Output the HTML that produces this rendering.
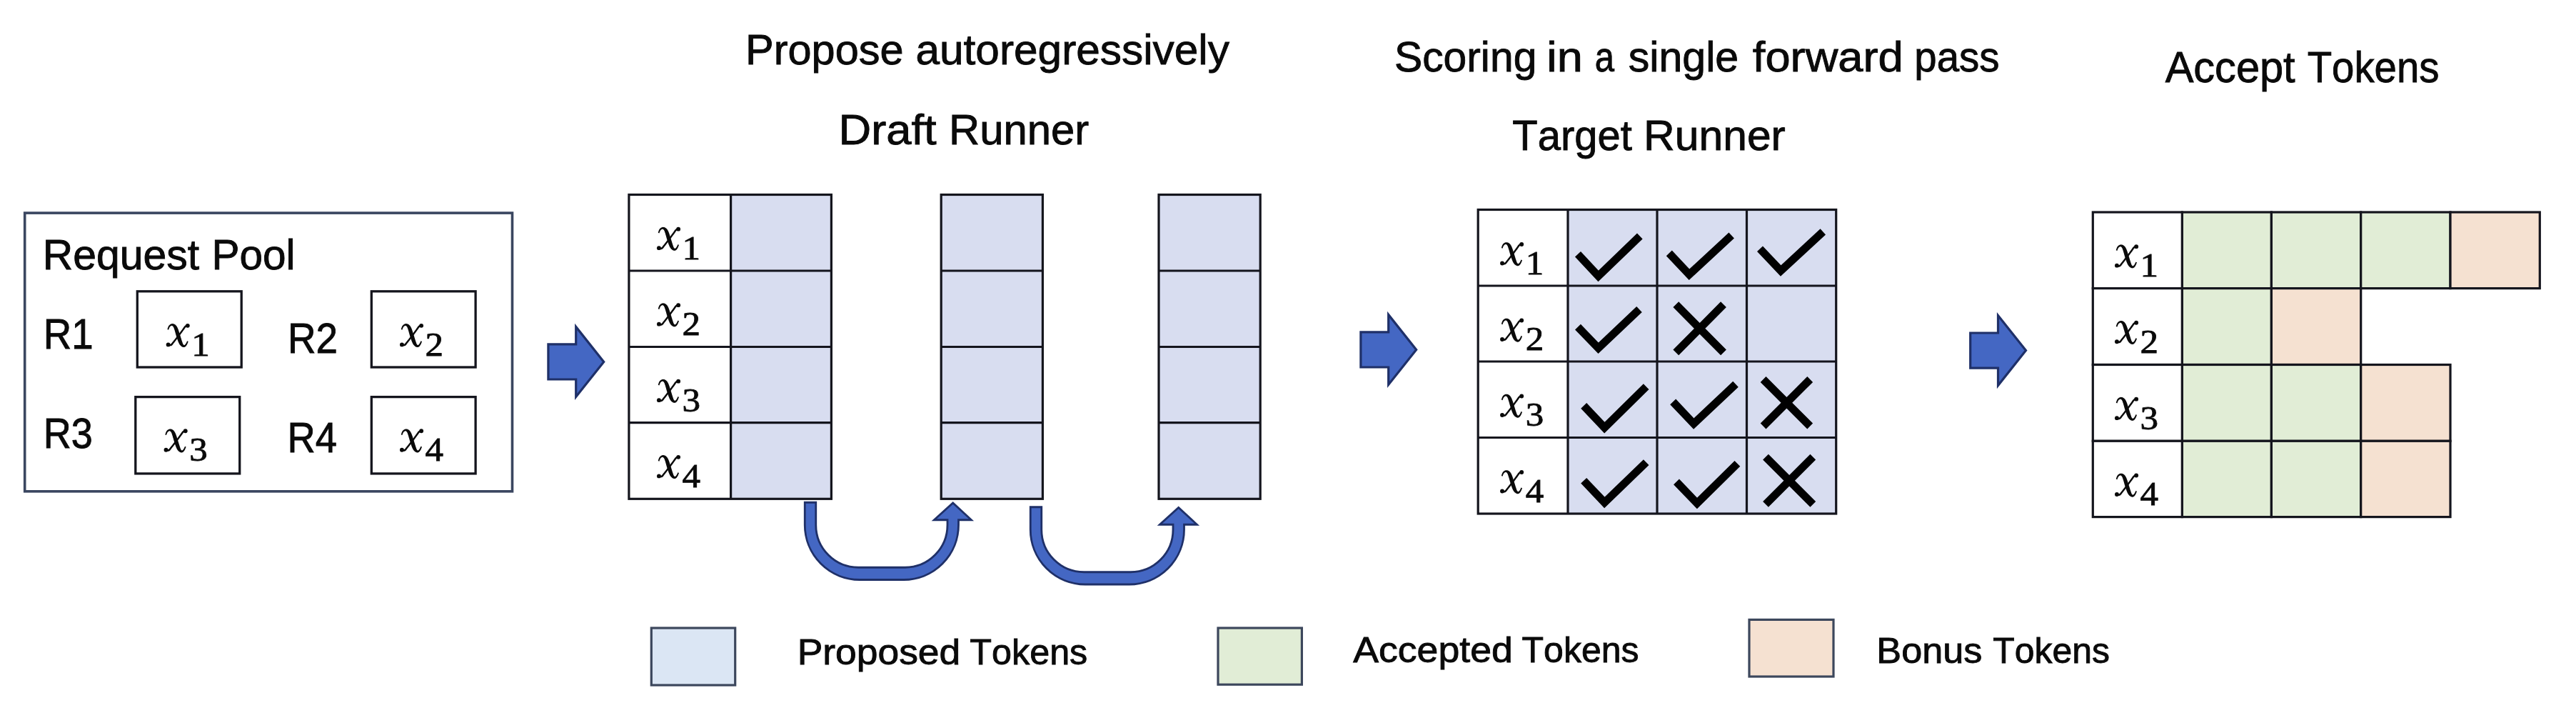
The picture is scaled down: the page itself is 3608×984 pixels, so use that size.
<!DOCTYPE html>
<html><head><meta charset="utf-8"><title>Speculative decoding</title>
<style>
html,body{margin:0;padding:0;background:#fff;}
body{width:3608px;height:984px;overflow:hidden;}
svg{display:block;}
text{font-kerning:none;}
text.s{font-family:"Liberation Sans",sans-serif;fill:#0a0a0a;stroke:#0a0a0a;stroke-width:0.9px;}
text.i{font-family:"Liberation Serif",serif;font-style:italic;fill:#0a0a0a;}
text.r{font-family:"Liberation Serif",serif;fill:#0a0a0a;stroke:#0a0a0a;stroke-width:0.8px;}
</style></head><body>
<svg width="3608" height="984" viewBox="0 0 3608 984">
<rect width="3608" height="984" fill="#fff"/>
<defs><g id="xg" fill="#0a0a0a"><g transform="translate(0,0.5) scale(0.975)"><path d="M3.84,-24.47 L3.93,-24.68 L4.03,-24.94 L4.15,-25.24 L4.27,-25.57 L4.40,-25.92 L4.54,-26.29 L4.70,-26.67 L4.86,-27.05 L5.02,-27.42 L5.19,-27.77 L5.37,-28.10 L5.54,-28.39 L5.71,-28.63 L5.87,-28.82 L6.05,-29.01 L6.25,-29.20 L6.46,-29.39 L6.68,-29.57 L6.90,-29.73 L7.13,-29.89 L7.37,-30.02 L7.60,-30.14 L7.83,-30.25 L8.04,-30.32 L8.25,-30.38 L8.44,-30.41 L8.60,-30.42 L8.74,-30.41 L8.87,-30.38 L9.01,-30.33 L9.15,-30.26 L9.29,-30.18 L9.44,-30.09 L9.59,-29.98 L9.74,-29.86 L9.89,-29.72 L10.04,-29.58 L10.18,-29.42 L10.32,-29.25 L10.45,-29.08 L10.58,-28.91 L10.71,-28.72 L10.83,-28.53 L10.94,-28.34 L11.04,-28.14 L11.14,-27.94 L11.24,-27.72 L11.34,-27.49 L11.44,-27.23 L11.55,-26.95 L11.66,-26.64 L11.78,-26.29 L11.92,-25.91 L12.06,-25.50 L12.21,-25.05 L12.37,-24.57 L12.54,-24.06 L12.71,-23.49 L12.89,-22.88 L13.08,-22.22 L13.28,-21.52 L13.48,-20.79 L13.69,-20.04 L13.90,-19.28 L14.12,-18.50 L14.33,-17.73 L14.56,-16.96 L14.78,-16.20 L15.01,-15.45 L15.24,-14.74 L15.46,-14.05 L15.69,-13.36 L15.92,-12.65 L16.16,-11.94 L16.40,-11.23 L16.64,-10.52 L16.88,-9.82 L17.13,-9.14 L17.37,-8.47 L17.62,-7.82 L17.87,-7.19 L18.11,-6.60 L18.36,-6.03 L18.60,-5.51 L18.83,-5.03 L19.06,-4.60 L19.29,-4.19 L19.51,-3.81 L19.74,-3.45 L19.97,-3.11 L20.21,-2.80 L20.45,-2.49 L20.69,-2.21 L20.94,-1.94 L21.19,-1.68 L21.45,-1.44 L21.71,-1.22 L21.98,-1.00 L22.25,-0.78 L22.54,-0.57 L22.84,-0.38 L23.14,-0.19 L23.45,-0.02 L23.77,0.13 L24.10,0.26 L24.44,0.38 L24.79,0.47 L25.15,0.54 L25.52,0.58 L25.89,0.59 L26.27,0.55 L26.66,0.48 L27.03,0.36 L27.37,0.20 L27.68,0.02 L27.97,-0.19 L28.23,-0.40 L28.48,-0.64 L28.71,-0.88 L28.93,-1.13 L29.15,-1.39 L29.35,-1.66 L29.55,-1.93 L29.74,-2.20 L29.92,-2.48 L30.10,-2.77 L30.29,-3.10 L30.49,-3.46 L30.67,-3.84 L30.85,-4.23 L31.03,-4.64 L31.20,-5.05 L31.37,-5.46 L31.53,-5.85 L31.67,-6.24 L31.81,-6.59 L31.94,-6.92 L32.05,-7.20 L32.14,-7.44 L32.22,-7.63 L30.58,-8.37 L30.48,-8.18 L30.36,-7.93 L30.23,-7.64 L30.09,-7.32 L29.93,-6.98 L29.76,-6.62 L29.58,-6.24 L29.40,-5.87 L29.21,-5.50 L29.02,-5.14 L28.83,-4.81 L28.64,-4.50 L28.47,-4.25 L28.30,-4.03 L28.12,-3.82 L27.93,-3.61 L27.74,-3.42 L27.55,-3.23 L27.36,-3.06 L27.17,-2.91 L26.99,-2.77 L26.81,-2.66 L26.65,-2.57 L26.50,-2.50 L26.37,-2.46 L26.26,-2.45 L26.19,-2.46 L26.14,-2.48 L26.11,-2.51 L26.06,-2.54 L26.00,-2.58 L25.93,-2.63 L25.85,-2.69 L25.75,-2.76 L25.65,-2.85 L25.53,-2.95 L25.42,-3.07 L25.30,-3.19 L25.18,-3.33 L25.06,-3.48 L24.94,-3.64 L24.82,-3.80 L24.71,-3.98 L24.61,-4.16 L24.53,-4.34 L24.44,-4.52 L24.36,-4.71 L24.29,-4.92 L24.21,-5.14 L24.12,-5.39 L24.03,-5.66 L23.93,-5.96 L23.81,-6.29 L23.69,-6.66 L23.55,-7.06 L23.40,-7.49 L23.24,-7.96 L23.08,-8.47 L22.90,-9.02 L22.71,-9.61 L22.51,-10.23 L22.31,-10.88 L22.10,-11.55 L21.89,-12.24 L21.67,-12.94 L21.46,-13.65 L21.23,-14.36 L21.01,-15.07 L20.79,-15.78 L20.56,-16.46 L20.35,-17.14 L20.12,-17.84 L19.90,-18.57 L19.67,-19.31 L19.43,-20.08 L19.19,-20.84 L18.95,-21.61 L18.71,-22.37 L18.46,-23.11 L18.22,-23.84 L17.97,-24.54 L17.72,-25.21 L17.47,-25.85 L17.23,-26.43 L16.99,-26.96 L16.76,-27.44 L16.54,-27.90 L16.32,-28.33 L16.09,-28.74 L15.86,-29.13 L15.62,-29.51 L15.38,-29.86 L15.13,-30.20 L14.86,-30.53 L14.59,-30.84 L14.30,-31.13 L14.00,-31.41 L13.69,-31.68 L13.37,-31.93 L13.02,-32.17 L12.67,-32.38 L12.31,-32.57 L11.94,-32.74 L11.56,-32.89 L11.18,-33.02 L10.80,-33.12 L10.41,-33.20 L10.02,-33.25 L9.63,-33.28 L9.24,-33.28 L8.85,-33.25 L8.46,-33.19 L8.08,-33.10 L7.71,-32.98 L7.35,-32.84 L7.01,-32.67 L6.67,-32.48 L6.35,-32.28 L6.03,-32.06 L5.73,-31.83 L5.43,-31.58 L5.15,-31.33 L4.87,-31.06 L4.61,-30.78 L4.37,-30.49 L4.13,-30.18 L3.90,-29.82 L3.69,-29.44 L3.49,-29.04 L3.32,-28.62 L3.15,-28.19 L3.00,-27.77 L2.85,-27.35 L2.72,-26.93 L2.60,-26.54 L2.49,-26.17 L2.39,-25.84 L2.30,-25.55 L2.23,-25.31 L2.16,-25.13Z"/><path d="M30.55,-31.73 L30.49,-31.70 L30.41,-31.68 L30.28,-31.64 L30.10,-31.60 L29.88,-31.54 L29.63,-31.48 L29.36,-31.40 L29.06,-31.30 L28.76,-31.18 L28.44,-31.04 L28.11,-30.87 L27.78,-30.67 L27.45,-30.44 L27.13,-30.17 L26.85,-29.89 L26.59,-29.61 L26.35,-29.32 L26.11,-29.02 L25.89,-28.71 L25.66,-28.39 L25.43,-28.05 L25.20,-27.70 L24.95,-27.34 L24.70,-26.96 L24.43,-26.56 L24.14,-26.15 L23.83,-25.71 L23.49,-25.24 L23.12,-24.74 L22.72,-24.19 L22.29,-23.61 L21.84,-23.00 L21.38,-22.37 L20.90,-21.71 L20.41,-21.05 L19.91,-20.37 L19.40,-19.69 L18.90,-19.00 L18.39,-18.32 L17.89,-17.65 L17.39,-17.00 L16.91,-16.36 L16.42,-15.72 L15.91,-15.06 L15.39,-14.38 L14.87,-13.70 L14.34,-13.02 L13.80,-12.34 L13.28,-11.66 L12.76,-11.00 L12.25,-10.35 L11.76,-9.73 L11.29,-9.14 L10.84,-8.58 L10.42,-8.06 L10.03,-7.58 L9.66,-7.13 L9.32,-6.70 L9.02,-6.31 L8.74,-5.94 L8.48,-5.60 L8.25,-5.30 L8.03,-5.03 L7.83,-4.79 L7.65,-4.59 L7.48,-4.42 L7.32,-4.28 L7.17,-4.17 L7.02,-4.07 L6.89,-4.01 L6.79,-3.97 L6.68,-3.95 L6.53,-3.94 L6.35,-3.95 L6.15,-3.97 L5.92,-4.01 L5.68,-4.06 L5.44,-4.12 L5.19,-4.19 L4.94,-4.26 L4.70,-4.33 L4.45,-4.40 L4.19,-4.46 L3.98,-4.49 L3.62,-1.51 L3.71,-1.51 L3.82,-1.49 L4.01,-1.46 L4.24,-1.41 L4.53,-1.35 L4.84,-1.30 L5.18,-1.24 L5.55,-1.20 L5.94,-1.17 L6.35,-1.16 L6.78,-1.19 L7.22,-1.27 L7.68,-1.40 L8.11,-1.59 L8.47,-1.82 L8.79,-2.05 L9.08,-2.31 L9.35,-2.57 L9.60,-2.85 L9.84,-3.14 L10.07,-3.44 L10.30,-3.76 L10.53,-4.09 L10.78,-4.43 L11.04,-4.79 L11.32,-5.18 L11.63,-5.58 L11.97,-6.02 L12.36,-6.50 L12.78,-7.03 L13.23,-7.59 L13.71,-8.19 L14.20,-8.81 L14.71,-9.46 L15.23,-10.13 L15.77,-10.80 L16.30,-11.49 L16.84,-12.17 L17.37,-12.86 L17.89,-13.53 L18.40,-14.20 L18.89,-14.84 L19.38,-15.49 L19.88,-16.15 L20.39,-16.83 L20.90,-17.51 L21.41,-18.20 L21.92,-18.89 L22.42,-19.57 L22.91,-20.24 L23.39,-20.89 L23.85,-21.52 L24.30,-22.13 L24.73,-22.71 L25.13,-23.25 L25.51,-23.76 L25.86,-24.24 L26.19,-24.70 L26.50,-25.13 L26.78,-25.54 L27.04,-25.92 L27.29,-26.28 L27.52,-26.61 L27.74,-26.92 L27.94,-27.20 L28.14,-27.45 L28.33,-27.68 L28.51,-27.89 L28.69,-28.07 L28.87,-28.23 L29.03,-28.36 L29.19,-28.46 L29.35,-28.55 L29.53,-28.62 L29.71,-28.69 L29.89,-28.74 L30.08,-28.79 L30.27,-28.83 L30.46,-28.87 L30.66,-28.90 L30.85,-28.93 L31.05,-28.97 L31.27,-29.02 L31.45,-29.07Z"/><circle cx="31.3" cy="-30.4" r="3.0"/><circle cx="3.4" cy="-3.2" r="3.0"/></g></g></defs>
<g opacity="0.999">
<rect x="34.7" y="298.1" width="682.8" height="389.7" fill="none" stroke="#3a4660" stroke-width="3.6"/>
<text class="s" x="59.82" y="376.6" font-size="59.6" textLength="219.36" lengthAdjust="spacingAndGlyphs">Request</text>
<text class="s" x="296.45" y="376.6" font-size="59.6" textLength="117.11" lengthAdjust="spacingAndGlyphs">Pool</text>
<text class="s" x="60.76" y="488.2" font-size="59.6" textLength="69.96" lengthAdjust="spacingAndGlyphs">R1</text>
<text class="s" x="403.05" y="493.7" font-size="59.6" textLength="70.05" lengthAdjust="spacingAndGlyphs">R2</text>
<text class="s" x="60.82" y="626.8" font-size="59.6" textLength="69.11" lengthAdjust="spacingAndGlyphs">R3</text>
<text class="s" x="402.49" y="632.5" font-size="59.6" textLength="69.45" lengthAdjust="spacingAndGlyphs">R4</text>
<rect x="192.3" y="407.8" width="145.9" height="106.2" fill="none" stroke="#14151d" stroke-width="3.3"/>
<rect x="520.3" y="407.8" width="145.8" height="106.2" fill="none" stroke="#14151d" stroke-width="3.3"/>
<rect x="189.8" y="555.6" width="145.9" height="107.3" fill="none" stroke="#14151d" stroke-width="3.3"/>
<rect x="520.3" y="555.6" width="145.8" height="107.3" fill="none" stroke="#14151d" stroke-width="3.3"/>
<use href="#xg" x="232.3" y="485.0"/>
<text class="r" x="268.3" y="497.8" font-size="45.5" textLength="25.5" lengthAdjust="spacingAndGlyphs">1</text>
<use href="#xg" x="559.6" y="485.0"/>
<text class="r" x="595.6" y="497.8" font-size="45.5" textLength="25.5" lengthAdjust="spacingAndGlyphs">2</text>
<use href="#xg" x="229.2" y="632.4"/>
<text class="r" x="265.2" y="645.2" font-size="45.5" textLength="25.5" lengthAdjust="spacingAndGlyphs">3</text>
<use href="#xg" x="559.6" y="632.4"/>
<text class="r" x="595.6" y="645.2" font-size="45.5" textLength="25.5" lengthAdjust="spacingAndGlyphs">4</text>
<path d="M767.9,481.8 L806.7,481.8 L806.7,457.4 L845.7,506.4 L806.7,555.4 L806.7,531.0 L767.9,531.0 Z" fill="#4467c3" stroke="#1f3068" stroke-width="3.2" stroke-linejoin="miter"/>
<path d="M1905.9,464.8 L1944.7,464.8 L1944.7,440.4 L1983.7,489.4 L1944.7,538.4 L1944.7,514.0 L1905.9,514.0 Z" fill="#4467c3" stroke="#1f3068" stroke-width="3.2" stroke-linejoin="miter"/>
<path d="M2759.7,466.0 L2798.5,466.0 L2798.5,441.6 L2837.5,490.6 L2798.5,539.6 L2798.5,515.2 L2759.7,515.2 Z" fill="#4467c3" stroke="#1f3068" stroke-width="3.2" stroke-linejoin="miter"/>
<text class="s" x="1043.97" y="90.2" font-size="59.6" textLength="221.63" lengthAdjust="spacingAndGlyphs">Propose</text>
<text class="s" x="1282.49" y="90.2" font-size="59.6" textLength="439.38" lengthAdjust="spacingAndGlyphs">autoregressively</text>
<text class="s" x="1174.56" y="201.7" font-size="60" textLength="137.16" lengthAdjust="spacingAndGlyphs">Draft</text>
<text class="s" x="1328.94" y="201.7" font-size="60" textLength="196.20" lengthAdjust="spacingAndGlyphs">Runner</text>
<rect x="1023.6" y="272.5" width="140.8" height="425.8" fill="#d8ddf0" stroke="none" stroke-width="0"/>
<rect x="880.9" y="272.5" width="283.5" height="425.8" fill="none" stroke="#14151d" stroke-width="3.2"/>
<line x1="1023.6" y1="272.5" x2="1023.6" y2="698.3" stroke="#14151d" stroke-width="3.2"/>
<line x1="880.9" y1="379.0" x2="1164.4" y2="379.0" stroke="#14151d" stroke-width="3.2"/>
<line x1="880.9" y1="485.5" x2="1164.4" y2="485.5" stroke="#14151d" stroke-width="3.2"/>
<line x1="880.9" y1="591.7" x2="1164.4" y2="591.7" stroke="#14151d" stroke-width="3.2"/>
<use href="#xg" x="919.6" y="349.8"/>
<text class="r" x="955.6" y="362.6" font-size="45.5" textLength="25.5" lengthAdjust="spacingAndGlyphs">1</text>
<use href="#xg" x="919.6" y="456.3"/>
<text class="r" x="955.6" y="469.1" font-size="45.5" textLength="25.5" lengthAdjust="spacingAndGlyphs">2</text>
<use href="#xg" x="919.6" y="562.8"/>
<text class="r" x="955.6" y="575.6" font-size="45.5" textLength="25.5" lengthAdjust="spacingAndGlyphs">3</text>
<use href="#xg" x="919.6" y="669.0"/>
<text class="r" x="955.6" y="681.8" font-size="45.5" textLength="25.5" lengthAdjust="spacingAndGlyphs">4</text>
<rect x="1318.2" y="272.5" width="142.2" height="425.8" fill="#d8ddf0" stroke="#14151d" stroke-width="3.2"/>
<line x1="1318.2" y1="379.0" x2="1460.4" y2="379.0" stroke="#14151d" stroke-width="3.2"/>
<line x1="1318.2" y1="485.5" x2="1460.4" y2="485.5" stroke="#14151d" stroke-width="3.2"/>
<line x1="1318.2" y1="591.7" x2="1460.4" y2="591.7" stroke="#14151d" stroke-width="3.2"/>
<rect x="1623.0" y="272.5" width="142.2" height="425.8" fill="#d8ddf0" stroke="#14151d" stroke-width="3.2"/>
<line x1="1623.0" y1="379.0" x2="1765.2" y2="379.0" stroke="#14151d" stroke-width="3.2"/>
<line x1="1623.0" y1="485.5" x2="1765.2" y2="485.5" stroke="#14151d" stroke-width="3.2"/>
<line x1="1623.0" y1="591.7" x2="1765.2" y2="591.7" stroke="#14151d" stroke-width="3.2"/>
<path transform="translate(1126,702)" d="M1.25,1.25 L16.75,1.25 L16.75,32.75 A59.5,59.5 0 0 0 76.25,92.25 L141.5,92.25 A59.5,59.5 0 0 0 201,32.75 L201,25.75 L182.3,25.75 L208.7,2 L234.5,25.75 L216.5,25.75 L216.5,32.75 A76.75,76.75 0 0 1 139.75,109.5 L78,109.5 A76.75,76.75 0 0 1 1.25,32.75 Z" fill="#4467c3" stroke="#1f3068" stroke-width="2.8"/>
<path transform="translate(1442,708.5)" d="M1.25,1.25 L16.75,1.25 L16.75,32.75 A59.5,59.5 0 0 0 76.25,92.25 L141.5,92.25 A59.5,59.5 0 0 0 201,32.75 L201,25.75 L182.3,25.75 L208.7,2 L234.5,25.75 L216.5,25.75 L216.5,32.75 A76.75,76.75 0 0 1 139.75,109.5 L78,109.5 A76.75,76.75 0 0 1 1.25,32.75 Z" fill="#4467c3" stroke="#1f3068" stroke-width="2.8"/>
<text class="s" x="1952.98" y="100.1" font-size="59.6" textLength="199.36" lengthAdjust="spacingAndGlyphs">Scoring</text>
<text class="s" x="2166.30" y="100.1" font-size="59.6" textLength="50.56" lengthAdjust="spacingAndGlyphs">in</text>
<text class="s" x="2233.77" y="100.1" font-size="59.6" textLength="27.28" lengthAdjust="spacingAndGlyphs">a</text>
<text class="s" x="2280.81" y="100.1" font-size="59.6" textLength="154.37" lengthAdjust="spacingAndGlyphs">single</text>
<text class="s" x="2454.85" y="100.1" font-size="59.6" textLength="210.97" lengthAdjust="spacingAndGlyphs">forward</text>
<text class="s" x="2681.31" y="100.1" font-size="59.6" textLength="119.18" lengthAdjust="spacingAndGlyphs">pass</text>
<text class="s" x="2118.35" y="210.0" font-size="60" textLength="167.53" lengthAdjust="spacingAndGlyphs">Target</text>
<text class="s" x="2302.08" y="210.0" font-size="60" textLength="198.67" lengthAdjust="spacingAndGlyphs">Runner</text>
<rect x="2196.0" y="293.5" width="375.7" height="425.5" fill="#d8ddf0" stroke="none" stroke-width="0"/>
<rect x="2070.2" y="293.5" width="501.5" height="425.5" fill="none" stroke="#14151d" stroke-width="3.2"/>
<line x1="2196.0" y1="293.5" x2="2196.0" y2="719.0" stroke="#14151d" stroke-width="3.2"/>
<line x1="2321.0" y1="293.5" x2="2321.0" y2="719.0" stroke="#14151d" stroke-width="3.2"/>
<line x1="2446.5" y1="293.5" x2="2446.5" y2="719.0" stroke="#14151d" stroke-width="3.2"/>
<line x1="2070.2" y1="400.0" x2="2571.7" y2="400.0" stroke="#14151d" stroke-width="3.2"/>
<line x1="2070.2" y1="506.0" x2="2571.7" y2="506.0" stroke="#14151d" stroke-width="3.2"/>
<line x1="2070.2" y1="612.5" x2="2571.7" y2="612.5" stroke="#14151d" stroke-width="3.2"/>
<use href="#xg" x="2100.7" y="371.1"/>
<text class="r" x="2136.7" y="383.9" font-size="45.5" textLength="25.5" lengthAdjust="spacingAndGlyphs">1</text>
<use href="#xg" x="2100.7" y="477.6"/>
<text class="r" x="2136.7" y="490.4" font-size="45.5" textLength="25.5" lengthAdjust="spacingAndGlyphs">2</text>
<use href="#xg" x="2100.7" y="583.6"/>
<text class="r" x="2136.7" y="596.4" font-size="45.5" textLength="25.5" lengthAdjust="spacingAndGlyphs">3</text>
<use href="#xg" x="2100.7" y="690.1"/>
<text class="r" x="2136.7" y="702.9" font-size="45.5" textLength="25.5" lengthAdjust="spacingAndGlyphs">4</text>
<polyline points="2210.0,355.8 2238.7,386.5 2296.8,330.5" fill="none" stroke="#000" stroke-width="11" stroke-linejoin="miter"/>
<polyline points="2337.8,354.4 2366.0,384.2 2425.2,329.5" fill="none" stroke="#000" stroke-width="11" stroke-linejoin="miter"/>
<polyline points="2465.0,348.3 2494.2,379.0 2553.3,324.4" fill="none" stroke="#000" stroke-width="11" stroke-linejoin="miter"/>
<polyline points="2210.0,457.6 2238.7,487.3 2296.0,433.0" fill="none" stroke="#000" stroke-width="11" stroke-linejoin="miter"/>
<path d="M2347.3,426.2 L2414,493.4 M2414,426.2 L2347.3,493.4" fill="none" stroke="#000" stroke-width="11"/>
<polyline points="2218.2,567.9 2247.3,598.6 2305.7,541.2" fill="none" stroke="#000" stroke-width="11" stroke-linejoin="miter"/>
<polyline points="2343.2,562.4 2372.3,593.1 2431.0,537.8" fill="none" stroke="#000" stroke-width="11" stroke-linejoin="miter"/>
<path d="M2469.6,531 L2535.2,596.5 M2535.2,531 L2469.6,596.5" fill="none" stroke="#000" stroke-width="11"/>
<polyline points="2218.2,672.7 2247.3,703.4 2305.7,647.1" fill="none" stroke="#000" stroke-width="11" stroke-linejoin="miter"/>
<polyline points="2348.0,674.4 2377.0,704.5 2433.4,648.8" fill="none" stroke="#000" stroke-width="11" stroke-linejoin="miter"/>
<path d="M2473,639.6 L2539.3,705.8 M2539.3,639.6 L2473,705.8" fill="none" stroke="#000" stroke-width="11"/>
<text class="s" x="3032.63" y="115.3" font-size="61" textLength="182.05" lengthAdjust="spacingAndGlyphs">Accept</text>
<text class="s" x="3231.68" y="115.3" font-size="61" textLength="184.80" lengthAdjust="spacingAndGlyphs">Tokens</text>
<rect x="3056.3" y="297.0" width="125.1" height="106.6" fill="#e1edd6" stroke="#14151d" stroke-width="3.2"/>
<rect x="3181.4" y="297.0" width="125.3" height="106.6" fill="#e1edd6" stroke="#14151d" stroke-width="3.2"/>
<rect x="3306.7" y="297.0" width="125.3" height="106.6" fill="#e1edd6" stroke="#14151d" stroke-width="3.2"/>
<rect x="3432.0" y="297.0" width="125.3" height="106.6" fill="#f5e1d1" stroke="#14151d" stroke-width="3.2"/>
<rect x="3056.3" y="403.6" width="125.1" height="106.9" fill="#e1edd6" stroke="#14151d" stroke-width="3.2"/>
<rect x="3181.4" y="403.6" width="125.3" height="106.9" fill="#f5e1d1" stroke="#14151d" stroke-width="3.2"/>
<rect x="3056.3" y="510.5" width="125.1" height="106.8" fill="#e1edd6" stroke="#14151d" stroke-width="3.2"/>
<rect x="3181.4" y="510.5" width="125.3" height="106.8" fill="#e1edd6" stroke="#14151d" stroke-width="3.2"/>
<rect x="3306.7" y="510.5" width="125.3" height="106.8" fill="#f5e1d1" stroke="#14151d" stroke-width="3.2"/>
<rect x="3056.3" y="617.3" width="125.1" height="106.3" fill="#e1edd6" stroke="#14151d" stroke-width="3.2"/>
<rect x="3181.4" y="617.3" width="125.3" height="106.3" fill="#e1edd6" stroke="#14151d" stroke-width="3.2"/>
<rect x="3306.7" y="617.3" width="125.3" height="106.3" fill="#f5e1d1" stroke="#14151d" stroke-width="3.2"/>
<rect x="2931.3" y="297.0" width="125.0" height="106.6" fill="#fff" stroke="#14151d" stroke-width="3.2"/>
<use href="#xg" x="2961.6" y="374.3"/>
<text class="r" x="2997.6" y="387.1" font-size="45.5" textLength="25.5" lengthAdjust="spacingAndGlyphs">1</text>
<rect x="2931.3" y="403.6" width="125.0" height="106.9" fill="#fff" stroke="#14151d" stroke-width="3.2"/>
<use href="#xg" x="2961.6" y="480.9"/>
<text class="r" x="2997.6" y="493.7" font-size="45.5" textLength="25.5" lengthAdjust="spacingAndGlyphs">2</text>
<rect x="2931.3" y="510.5" width="125.0" height="106.8" fill="#fff" stroke="#14151d" stroke-width="3.2"/>
<use href="#xg" x="2961.6" y="587.8"/>
<text class="r" x="2997.6" y="600.6" font-size="45.5" textLength="25.5" lengthAdjust="spacingAndGlyphs">3</text>
<rect x="2931.3" y="617.3" width="125.0" height="106.3" fill="#fff" stroke="#14151d" stroke-width="3.2"/>
<use href="#xg" x="2961.6" y="694.6"/>
<text class="r" x="2997.6" y="707.4" font-size="45.5" textLength="25.5" lengthAdjust="spacingAndGlyphs">4</text>
<rect x="912.3" y="879.0" width="117.4" height="80.0" fill="#dbe6f4" stroke="#3c475c" stroke-width="3.2"/>
<text class="s" x="1116.67" y="929.9" font-size="50.5" textLength="228.62" lengthAdjust="spacingAndGlyphs">Proposed</text>
<text class="s" x="1358.32" y="929.9" font-size="50.5" textLength="164.95" lengthAdjust="spacingAndGlyphs">Tokens</text>
<rect x="1706.0" y="879.0" width="117.4" height="79.2" fill="#e1edd6" stroke="#3c475c" stroke-width="3.2"/>
<text class="s" x="1895.15" y="927.4" font-size="50.5" textLength="223.76" lengthAdjust="spacingAndGlyphs">Accepted</text>
<text class="s" x="2131.53" y="927.4" font-size="50.5" textLength="164.03" lengthAdjust="spacingAndGlyphs">Tokens</text>
<rect x="2450.0" y="867.4" width="118.0" height="79.6" fill="#f5e1d1" stroke="#3c475c" stroke-width="3.2"/>
<text class="s" x="2628.37" y="927.5" font-size="50.5" textLength="147.97" lengthAdjust="spacingAndGlyphs">Bonus</text>
<text class="s" x="2791.33" y="927.5" font-size="50.5" textLength="163.62" lengthAdjust="spacingAndGlyphs">Tokens</text>
</g>
</svg>
</body></html>
